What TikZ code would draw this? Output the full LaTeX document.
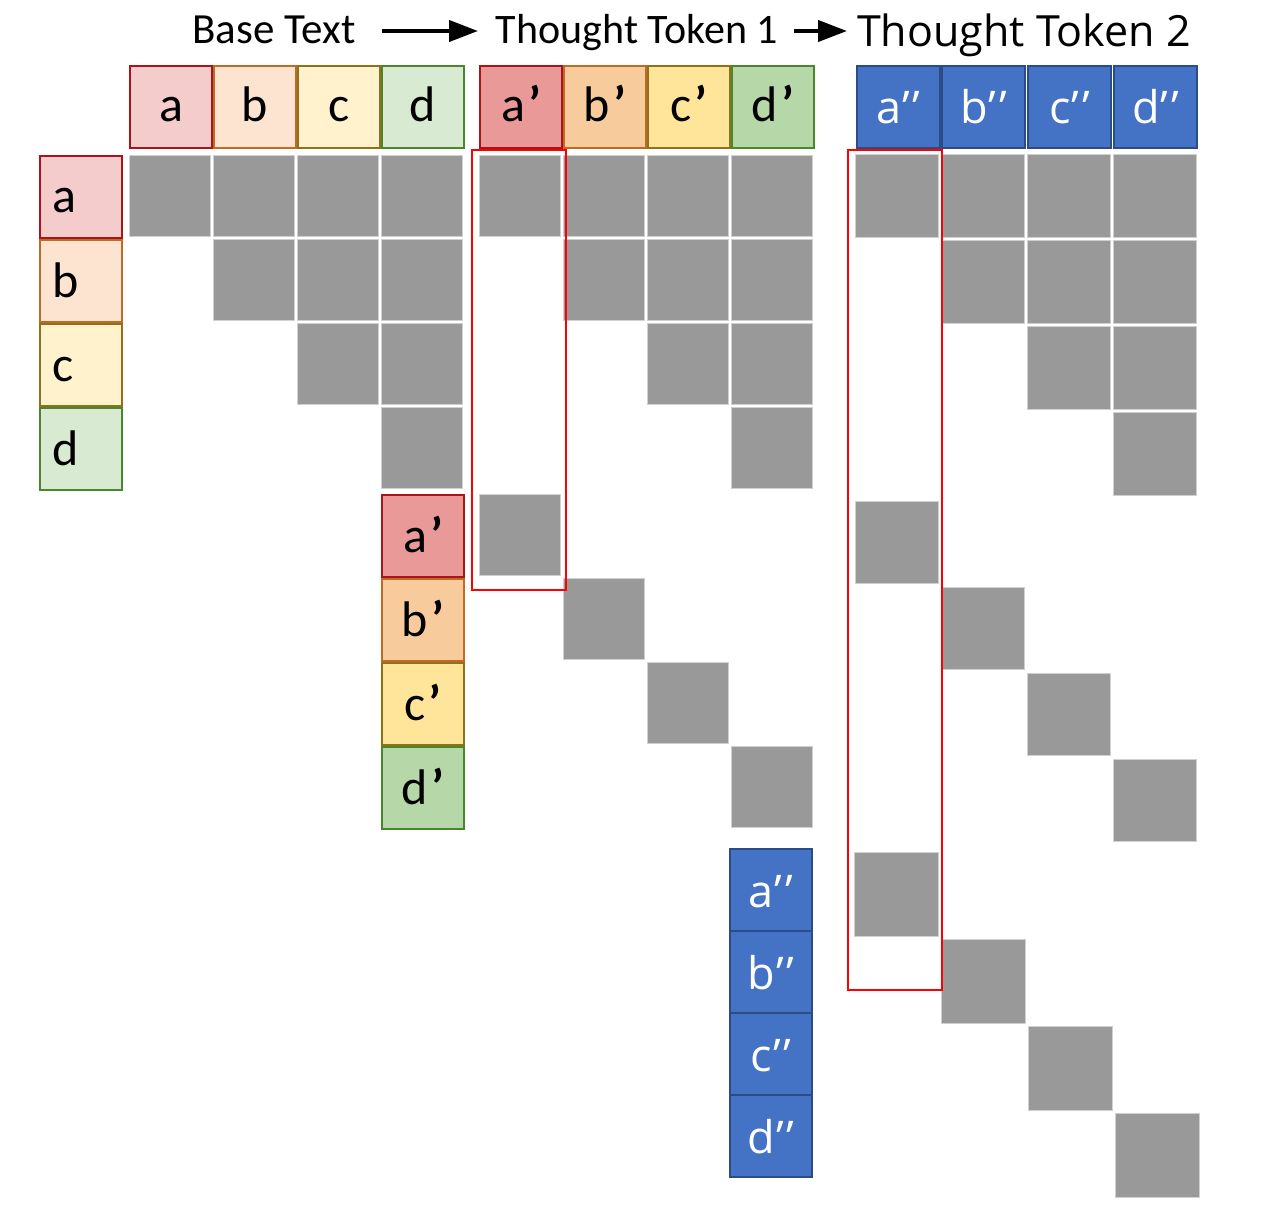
\documentclass[tikz,border=0pt]{standalone}
\usepackage{fontspec}
\setmainfont{Carlito}
\newfontfamily\osans{Open Sans}
\usetikzlibrary{arrows.meta}
\definecolor{aB}{HTML}{A8141A}
\definecolor{bB}{HTML}{C06A26}
\definecolor{cB}{HTML}{907018}
\definecolor{dB}{HTML}{4A862C}
\definecolor{aF}{HTML}{F4CCCC}
\definecolor{bF}{HTML}{FCE4D0}
\definecolor{cF}{HTML}{FFF2CC}
\definecolor{dF}{HTML}{D9EAD3}
\definecolor{apF}{HTML}{EA9999}
\definecolor{bpF}{HTML}{F8CB9C}
\definecolor{cpF}{HTML}{FFE599}
\definecolor{dpF}{HTML}{B6D7A8}
\definecolor{blF}{HTML}{4472C4}
\definecolor{blB}{HTML}{2B4C86}
\definecolor{cellG}{HTML}{999999}
\definecolor{cellE}{HTML}{D0D0D0}
\definecolor{redbox}{HTML}{FF0000}
\newcommand\pq{\kern3pt{\bfseries ’}}
\newcommand\dq{\kern1pt’\kern3pt’}
\begin{document}
\begin{tikzpicture}[x=1pt,y=-1pt,
  tok/.style={draw, line width=2pt, minimum width=82pt, minimum height=82pt,
    inner sep=0pt, anchor=north west, text height=30pt, text depth=0pt,
    font=\fontsize{50}{50}\selectfont},
  tokL/.style={tok, inner xsep=12pt, text width=58pt, align=left, text height=32pt},
  qtok/.style={draw=blB, fill=blF, line width=2pt, minimum width=83pt, minimum height=82pt,
    inner sep=0pt, anchor=north west, text height=34pt, text depth=0pt, text=white,
    font=\osans\fontsize{45}{45}\selectfont},
  gcell/.style={fill=cellG, draw=cellE, line width=0.8pt},
  focus/.style={draw=redbox, line width=2.5pt},
  ttl/.style={anchor=base, inner sep=0pt, font=\fontsize{42}{42}\selectfont},
  arr/.style={line width=4pt, -{Triangle[length=29pt,width=21pt]}}
]
\useasboundingbox (0,0) rectangle (1280,1217);

% titles
\node[ttl, font=\fontsize{43}{43}\selectfont] (tbase) at (274,44) {Base Text};
\node[ttl] (ttone) at (637,44) {Thought Token 1};
\node[ttl, font=\osans\fontsize{43}{43}\selectfont] (tttwo) at (1024,47) {Thought Token 2};
\coordinate (ar1s) at (382,31);
\coordinate (ar1e) at (478,31);
\coordinate (ar2s) at (794,31);
\coordinate (ar2e) at (847,31);
\draw[arr] (ar1s) -- (ar1e);
\draw[arr] (ar2s) -- (ar2e);

% column headers: base text
\node[tok, draw=aB, fill=aF] (ha) at (129,65) {a};
\node[tok, draw=bB, fill=bF] (hb) at (213,65) {b};
\node[tok, draw=cB, fill=cF] (hc) at (297,65) {c};
\node[tok, draw=dB, fill=dF] (hd) at (381,65) {d};
% column headers: thought token 1
\node[tok, draw=aB, fill=apF] (hap) at (479,65) {a\pq};
\node[tok, draw=bB, fill=bpF] (hbp) at (563,65) {b\pq};
\node[tok, draw=cB, fill=cpF] (hcp) at (647,65) {c\pq};
\node[tok, draw=dB, fill=dpF] (hdp) at (731,65) {d\pq};
% column headers: thought token 2
\node[qtok] (haq) at (856,65) {a\dq};
\node[qtok] (hbq) at (941,65) {b\dq};
\node[qtok] (hcq) at (1027,65) {c\dq};
\node[qtok] (hdq) at (1113,65) {d\dq};

% row labels
\node[tokL, draw=aB, fill=aF] (la) at (39,155) {a};
\node[tokL, draw=bB, fill=bF] (lb) at (39,239) {b};
\node[tokL, draw=cB, fill=cF] (lc) at (39,323) {c};
\node[tokL, draw=dB, fill=dF] (ld) at (39,407) {d};
\node[tok, draw=aB, fill=apF, text height=33pt] (lap) at (381,494) {a\pq};
\node[tok, draw=bB, fill=bpF, text height=33pt] (lbp) at (381,578) {b\pq};
\node[tok, draw=cB, fill=cpF, text height=33pt] (lcp) at (381,662) {c\pq};
\node[tok, draw=dB, fill=dpF, text height=33pt] (ldp) at (381,746) {d\pq};
\node[qtok, minimum width=82pt] (laq) at (729,848) {a\dq};
\node[qtok, minimum width=82pt] (lbq) at (729,930) {b\dq};
\node[qtok, minimum width=82pt] (lcq) at (729,1012) {c\dq};
\node[qtok, minimum width=82pt] (ldq) at (729,1094) {d\dq};

% base text mask (upper triangular)
\foreach \x [count=\j] in {129,213,297,381}{
  \foreach \y [count=\i] in {155,239,323,407}{
    \ifnum\i>\j\relax\else
      \draw[gcell] (\x,\y) rectangle ++(81,81);
    \fi
  }
}
% thought token 1 mask
\foreach \x [count=\j] in {479,563,647,731}{
  \foreach \y [count=\i] in {155,239,323,407}{
    \ifnum\i>\j\relax\else
      \draw[gcell] (\x,\y) rectangle ++(81,81);
    \fi
  }
}
\foreach \x/\y in {479/494, 563/578, 647/662, 731/746}{
  \draw[gcell] (\x,\y) rectangle ++(81,81);
}
% thought token 2 mask
\foreach \x [count=\j] in {855,941,1027,1113}{
  \foreach \y [count=\i] in {154,240,326,412}{
    \ifnum\i>\j\relax\else
      \draw[gcell] (\x,\y) rectangle ++(83,83);
    \fi
  }
}
\foreach \x/\y in {855/501, 941/587, 1027/673, 1113/759}{
  \draw[gcell] (\x,\y) rectangle ++(83,82);
}
\foreach \x/\y in {854/852, 941/939, 1028/1026, 1115/1113}{
  \draw[gcell] (\x,\y) rectangle ++(84,84);
}

% highlighted columns
\draw[focus] (472,150) rectangle (566,590);
\draw[focus] (848,150) rectangle (942,990);
\end{tikzpicture}
\end{document}
